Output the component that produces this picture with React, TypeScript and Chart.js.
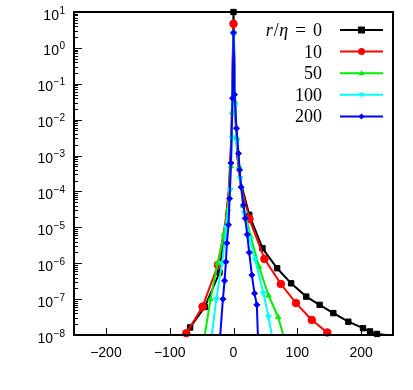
import { useEffect, useRef } from "react";
import { Chart, registerables } from "chart.js";

Chart.register(...registerables);

// Separation values (x) and log10 of the PDF for each r/η series
const xR0 = [-76, -68, -45, -22, -13, -7, -3, 0, 3, 6, 10.5, 24.6, 45.4, 68.4, 90.3, 114, 135, 156.5, 180, 203, 214, 225, 240];
const logR0 = [-8, -7.79, -7.22, -6.26, -5.0, -4.0, -2.4, 1.0, -1.9, -3.0, -3.68, -4.65, -5.58, -6.14, -6.56, -6.93, -7.16, -7.39, -7.63, -7.81, -7.9, -7.97, -8];

const xR10 = [-78, -74, -48.5, -24.4, -13, -7, -3, 0, 3, 6, 11, 25, 48.5, 74.2, 98, 122.7, 147, 150];
const logR10 = [-8, -7.95, -7.21, -6.05, -4.9, -3.9, -2.3, 0.67, -1.9, -3.0, -3.8, -4.77, -5.88, -6.58, -7.11, -7.58, -7.93, -8];

const xR50 = [-45, -36, -25, -15, -8.8, -4, -2, 0, 2, 5, 8.9, 15, 27, 40, 55, 70, 78];
const logR50 = [-8, -7.0, -6.0, -5.2, -4.5, -3.3, -1.8, 0.42, -1.5, -2.5, -3.31, -4.4, -5.26, -6.1, -6.9, -7.5, -8];

const xR100 = [-34, -27, -18, -11, -5.2, -2.5, 0, 2.5, 5.3, 10.5, 17, 25, 34, 47, 55, 60];
const logR100 = [-8, -7.0, -6.0, -5.0, -3.96, -2.5, 0.42, -1.6, -2.6, -3.63, -4.6, -5.3, -5.9, -6.84, -7.5, -8];

const xR200 = [-20.8, -16.6, -14, -11.9, -10.4, -7.8, -6.2, -4.1, -1.5, 0, 1.6, 4.7, 7.8, 9.5, 12, 15.7, 18.3, 21.5, 24.6, 28.8, 32.9, 36.6, 38.2];
const logR200 = [-8, -7.0, -6.49, -5.96, -5.44, -4.93, -4.2, -3.21, -1.4, 0.42, -1.3, -2.24, -2.94, -3.4, -3.88, -4.38, -4.75, -5.2, -5.7, -6.33, -6.84, -7.16, -8];

const legendLabels = ["0", "10", "50", "100", "200"];
const xTicks = [-200, -100, 0, 100, 200];
const yDecades = [1, 0, -1, -2, -3, -4, -5, -6, -7, -8];

const colors = ["#000000", "#ff0000", "#00ee00", "#00ffff", "#0000ff"];
const shapes = ["rect", "circle", "triangle", "triangle", "rectRot"];
const rotations = [0, 0, 0, 180, 0];
const radii = [3.8, 3.8, 3, 3.3, 3];

const toPoints = (xs: number[], ls: number[]) => xs.map((x, i) => ({ x, y: Math.pow(10, ls[i]) }));

const SANS = '"Liberation Sans", Arial, sans-serif';
const SERIF = '"Liberation Serif", "DejaVu Serif", serif';

// small legend symbol matching each series' point style
function drawSymbol(ctx: CanvasRenderingContext2D, kind: number, x: number, y: number) {
  ctx.beginPath();
  if (kind === 0) {
    ctx.rect(x - 3.5, y - 3.5, 7, 7);
  } else if (kind === 1) {
    ctx.arc(x, y, 3.5, 0, Math.PI * 2);
  } else if (kind === 2) {
    ctx.moveTo(x, y - 3);
    ctx.lineTo(x + 3, y + 2);
    ctx.lineTo(x - 3, y + 2);
    ctx.closePath();
  } else if (kind === 3) {
    ctx.moveTo(x, y + 3);
    ctx.lineTo(x + 3, y - 2);
    ctx.lineTo(x - 3, y - 2);
    ctx.closePath();
  } else {
    ctx.moveTo(x, y - 3);
    ctx.lineTo(x + 3, y);
    ctx.lineTo(x, y + 3);
    ctx.lineTo(x - 3, y);
    ctx.closePath();
  }
  ctx.fill();
}

const framePlugin = {
  id: "frameAxes",
  afterDatasetsDraw(chart: any) {
    const { ctx, chartArea: a, scales } = chart;
    const xs = scales.x;
    const ys = scales.y;
    ctx.save();
    ctx.strokeStyle = "#000";
    ctx.fillStyle = "#000";

    // frame
    ctx.lineWidth = 2;
    ctx.strokeRect(a.left, a.top, a.right - a.left, a.bottom - a.top);

    // y ticks (inward, on the left axis)
    ctx.lineWidth = 1;
    ctx.beginPath();
    for (const e of yDecades) {
      const y = Math.round(ys.getPixelForValue(Math.pow(10, e))) + 0.5;
      ctx.moveTo(a.left, y);
      ctx.lineTo(a.left + 8, y);
      if (e < 1) {
        for (let m = 2; m <= 9; m++) {
          const ym = Math.round(ys.getPixelForValue(m * Math.pow(10, e))) + 0.5;
          ctx.moveTo(a.left, ym);
          ctx.lineTo(a.left + 4, ym);
        }
      }
    }
    ctx.stroke();

    // x ticks (inward, on the bottom axis)
    ctx.beginPath();
    for (const v of xTicks) {
      const x = Math.round(xs.getPixelForValue(v)) + 0.5;
      ctx.moveTo(x, a.bottom);
      ctx.lineTo(x, a.bottom - 7);
    }
    ctx.stroke();

    // y labels: 10 with superscript exponent
    ctx.textBaseline = "alphabetic";
    for (const e of yDecades) {
      const y = ys.getPixelForValue(Math.pow(10, e));
      const exp = e < 0 ? "\u2212" + Math.abs(e) : String(e);
      ctx.font = `10px ${SANS}`;
      const ew = ctx.measureText(exp).width;
      const right = a.left - 9;
      ctx.textAlign = "left";
      ctx.fillText(exp, right - ew, y + 1.5);
      ctx.font = `14px ${SANS}`;
      ctx.textAlign = "right";
      ctx.fillText("10", right - ew - 0.5, y + 7.5);
    }

    // x labels
    ctx.font = `14px ${SANS}`;
    ctx.textAlign = "center";
    for (const v of xTicks) {
      const x = xs.getPixelForValue(v);
      const t = v < 0 ? "\u2212" + Math.abs(v) : String(v);
      ctx.fillText(t, x, a.bottom + 22);
    }

    // legend
    const textRight = 322;
    const lineL = 340;
    const lineR = 383;
    const rowTop = 30;
    const rowStep = 21.6;
    legendLabels.forEach((lab, i) => {
      const cy = rowTop + i * rowStep;
      const base = cy + 6;
      ctx.fillStyle = "#000";
      ctx.textAlign = "left";
      if (i === 0) {
        // r/η = 0
        const parts: [string, string, number][] = [
          ["r", `italic 18px ${SERIF}`, 1],
          ["/", `18px ${SERIF}`, 0.5],
          ["\u03b7", `italic 18px ${SERIF}`, 7],
          ["=", `19px ${SERIF}`, 7],
          [lab, `18px ${SERIF}`, 0],
        ];
        let total = 0;
        for (const [s, f, gap] of parts) {
          ctx.font = f;
          total += ctx.measureText(s).width + gap;
        }
        let x = textRight - total;
        for (const [s, f, gap] of parts) {
          ctx.font = f;
          ctx.fillText(s, x, base);
          x += ctx.measureText(s).width + gap;
        }
      } else {
        ctx.font = `18px ${SERIF}`;
        ctx.textAlign = "right";
        ctx.fillText(lab, textRight, base);
      }
      ctx.strokeStyle = colors[i];
      ctx.lineWidth = 2;
      ctx.beginPath();
      ctx.moveTo(lineL, cy);
      ctx.lineTo(lineR, cy);
      ctx.stroke();
      ctx.fillStyle = colors[i];
      drawSymbol(ctx, i, (lineL + lineR) / 2, cy);
    });
    ctx.restore();
  },
};

export default function App() {
  const ref = useRef<HTMLCanvasElement>(null);

  useEffect(() => {
    if (!ref.current) return;
    const series = [
      toPoints(xR0, logR0),
      toPoints(xR10, logR10),
      toPoints(xR50, logR50),
      toPoints(xR100, logR100),
      toPoints(xR200, logR200),
    ];
    const datasets = series.map((data, i) => ({
      label: "r/η = " + legendLabels[i],
      data,
      borderColor: colors[i],
      backgroundColor: colors[i],
      borderWidth: 2,
      pointStyle: shapes[i],
      pointRotation: rotations[i],
      pointBorderWidth: 1,
      pointRadius: (c: any) => {
        const p = c.raw;
        if (!p || p.y <= 1e-8) return 0;
        if (i <= 1 && p.x !== 0 && Math.abs(p.x) < 20) return 0;
        return radii[i];
      },
      tension: 0,
      order: 4 - i,
      clip: { left: 0, right: 0, top: 6, bottom: 4 },
    }));
    const chart = new Chart(ref.current, {
      type: "line",
      data: { datasets },
      options: {
        responsive: false,
        animation: false,
        parsing: false,
        layout: { padding: { left: 74, top: 12, right: 20, bottom: 55 } },
        scales: {
          x: { type: "linear", min: -250, max: 250, display: false },
          y: { type: "logarithmic", min: 1e-8, max: 10, display: false },
        },
        plugins: { legend: { display: false }, tooltip: { enabled: false } },
      },
      plugins: [framePlugin],
    } as any);
    return () => chart.destroy();
  }, []);

  return (
    <div style={{ position: "absolute", left: 0, top: 0, width: 413, height: 390, background: "#fff" }}>
      <canvas ref={ref} width={413} height={390} />
    </div>
  );
}
